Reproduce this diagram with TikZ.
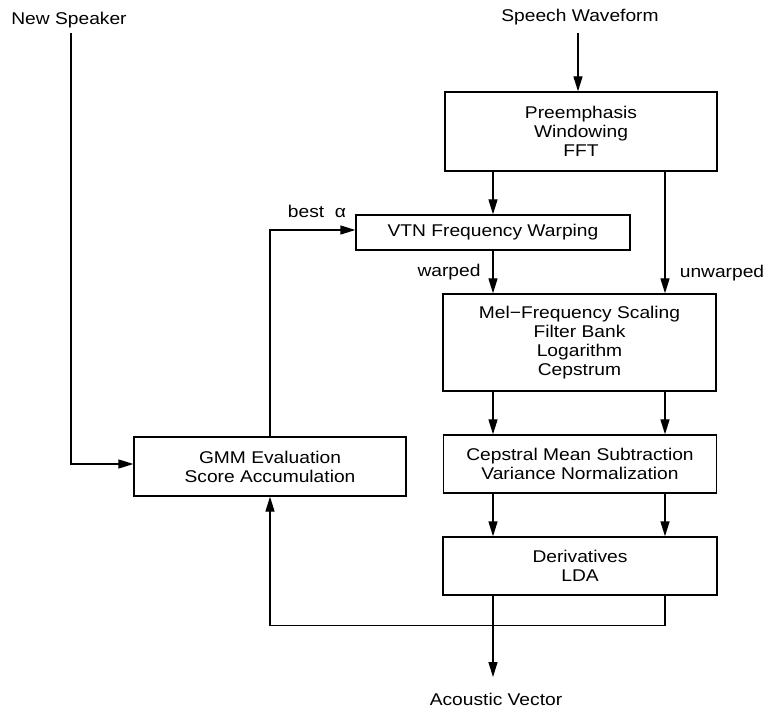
\documentclass[tikz,border=0pt]{standalone}
\usepackage{fontspec}
\setmainfont[FakeStretch=1.13]{Liberation Sans}
\usetikzlibrary{arrows.meta}
\begin{document}
\begin{tikzpicture}[x=1pt,y=-1pt,
  every node/.style={font=\fontsize{17}{19}\selectfont},
  box/.style={draw,line width=1.3pt,align=center,inner sep=0pt},
  lab/.style={anchor=base,inner sep=0pt},
  arr/.style={line width=1.3pt,-{Triangle[length=15pt,width=9pt]}}]
\useasboundingbox (0,0) rectangle (766,708);
% boxes
\node[box,minimum width=272pt,minimum height=79pt] (pre) at (581,131.5) {Preemphasis\\Windowing\\FFT};
\node[box,minimum width=274pt,minimum height=35pt] (vtn) at (493,232.5) {VTN Frequency Warping};
\node[box,minimum width=273pt,minimum height=97pt] (mel) at (579.5,342.5) {Mel−Frequency Scaling\\Filter Bank\\Logarithm\\Cepstrum};
\node[box,minimum width=273pt,minimum height=58pt] (cms) at (580,464) {Cepstral Mean Subtraction\\Variance Normalization};
\node[box,minimum width=272pt,minimum height=59pt] (gmm) at (270,466.5) {GMM Evaluation\\Score Accumulation};
\node[box,minimum width=274pt,minimum height=58pt] (der) at (580,566) {Derivatives\\LDA};
% labels
\node[lab] (ns) at (69,25) {New Speaker};
\node[lab] (sw) at (580,22) {Speech Waveform};
\node[lab] (best) at (317,218) {best~~α};
\node[lab] (warped) at (449,277) {warped};
\node[lab] (unwarped) at (722,278) {unwarped};
\node[lab] (acv) at (496,705) {Acoustic Vector};
% helper coordinates
\coordinate (ca) at (493,0);
\coordinate (cb) at (665,0);
\coordinate (swo) at (578,33);
\coordinate (nso) at (71,33);
\coordinate (avo) at (493,677);
% connectors
\draw[arr] (swo) -- (swo |- pre.north);
\draw[arr] (pre.south -| ca) -- (vtn.north -| ca);
\draw[arr] (pre.south -| cb) -- (mel.north -| cb);
\draw[arr] (vtn.south -| ca) -- (mel.north -| ca);
\draw[arr] (mel.south -| ca) -- (cms.north -| ca);
\draw[arr] (mel.south -| cb) -- (cms.north -| cb);
\draw[arr] (cms.south -| ca) -- (der.north -| ca);
\draw[arr] (cms.south -| cb) -- (der.north -| cb);
\draw[arr] (der.south -| ca) -- (avo);
\draw[arr] (der.south -| cb) -- ++(0,30) -| (gmm.south);
\draw[arr] (gmm.north) |- ([yshift=2.5pt]vtn.west);
\draw[arr] (nso) |- ([yshift=2.5pt]gmm.west);
\end{tikzpicture}
\end{document}
